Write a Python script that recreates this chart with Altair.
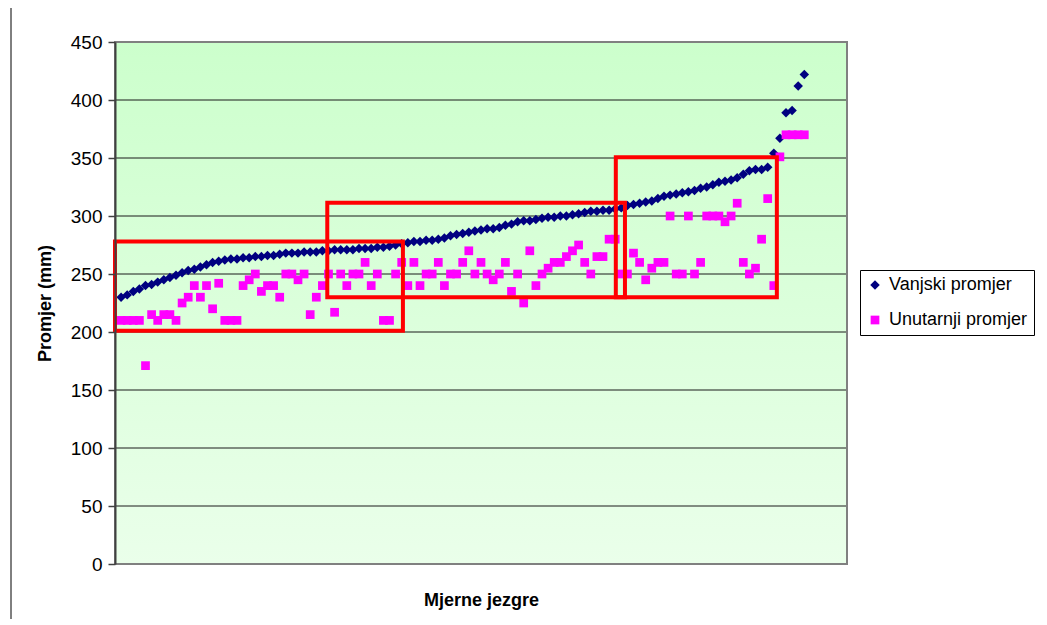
import altair as alt
import pandas as pd

# ---- data ----
series_names = ["Vanjski promjer", "Unutarnji promjer"]

outer = [
    230, 232, 235, 237, 240, 241, 243, 245, 247, 249,
    251, 253, 254, 256, 258, 260, 261, 262, 263, 263,
    264, 264, 265, 265, 266, 266, 267, 268, 268, 268,
    269, 269, 269, 270, 270, 271, 271, 271, 271, 272,
    272, 272, 273, 273, 274, 275, 276, 277, 278, 278,
    279, 279, 280, 281, 283, 284, 285, 286, 287, 288,
    289, 289, 290, 292, 293, 295, 296, 296, 297, 298,
    299, 299, 300, 300, 301, 302, 303, 304, 304, 305,
    305, 306, 307, 309, 310, 311, 312, 313, 315, 317,
    318, 319, 320, 321, 322, 324, 325, 327, 329, 330,
    331, 333, 336, 339, 340, 340, 342, 354, 367, 389,
    391, 412, 422,
]

inner = [
    210, 210, 210, 210, 171, 215, 210, 215, 215, 210,
    225, 230, 240, 230, 240, 220, 242, 210, 210, 210,
    240, 245, 250, 235, 240, 240, 230, 250, 250, 245,
    250, 215, 230, 240, 250, 217, 250, 240, 250, 250,
    260, 240, 250, 210, 210, 250, 260, 240, 260, 240,
    250, 250, 260, 240, 250, 250, 260, 270, 250, 260,
    250, 245, 250, 260, 235, 250, 225, 270, 240, 250,
    255, 260, 260, 265, 270, 275, 260, 250, 265, 265,
    280, 280, 250, 250, 268, 260, 245, 255, 260, 260,
    300, 250, 250, 300, 250, 260, 300, 300, 300, 295,
    300, 311, 260, 250, 255, 280, 315, 240, 351, 370,
    370, 370, 370,
]

cores = list(range(1, len(outer) + 1))

# highlighted regions (red frames), in data units
box_x1 = [0, 34.8, 82.1]
box_x2 = [47.2, 83.6, 108.5]
box_y1 = [201, 230, 230]
box_y2 = [278, 311.5, 350.6]

grid_values = [50, 100, 150, 200, 250, 300, 350, 400, 450]
y_ticks = [0, 50, 100, 150, 200, 250, 300, 350, 400, 450]

# ---- tables ----
pts = pd.DataFrame(
    {
        "core": cores + cores,
        "value": outer + inner,
        "series": [series_names[0]] * len(outer) + [series_names[1]] * len(inner),
    }
)
boxes = pd.DataFrame({"x1": box_x1, "x2": box_x2, "y1": box_y1, "y2": box_y2})
grid = pd.DataFrame({"g": grid_values})
one = pd.DataFrame({"a": [0]})

W, H = 732, 522
FONT = "Liberation Sans"

xscale = alt.Scale(domain=[0, 120], nice=False, zero=False)
yscale = alt.Scale(domain=[0, 450], nice=False)

bg = alt.Chart(one).mark_rect(
    fill=alt.Gradient(
        gradient="linear",
        stops=[
            alt.GradientStop(color="#CCFFCC", offset=0),
            alt.GradientStop(color="#EAFFEA", offset=1),
        ],
        x1=0, x2=0, y1=0, y2=1,
    )
).encode(x=alt.value(0), x2=alt.value("width"), y=alt.value(0), y2=alt.value("height"))

grid_rules = alt.Chart(grid).mark_rule(color="#1a1a1a", strokeWidth=1).encode(
    x=alt.value(0), x2=alt.value("width"),
    y=alt.Y("g:Q", scale=yscale),
)

border = alt.Chart(one).mark_rect(filled=False, stroke="#808080", strokeWidth=2).encode(
    x=alt.value(0), x2=alt.value("width"), y=alt.value(0), y2=alt.value("height")
)

frame_line = alt.Chart(one).mark_rule(color="#000000", strokeWidth=1).encode(
    x=alt.value(-104), y=alt.value(-40), y2=alt.value(H + 70)
)

legend_props = dict(
    title=None,
    orient="none",
    legendX=745,
    legendY=228,
    strokeColor="#000000",
    fillColor="#FFFFFF",
    padding=6,
    labelFontSize=18,
    labelFont=FONT,
    labelColor="#000000",
    symbolSize=55,
    rowPadding=17,
    labelOffset=5,
    symbolStrokeWidth=0,
)

points = alt.Chart(pts).mark_point(filled=True, opacity=1).encode(
    x=alt.X(
        "core:Q", scale=xscale,
        axis=alt.Axis(
            title="Mjerne jezgre", labels=False, ticks=False, domain=False, grid=False,
            titleFontSize=18, titleFontWeight="bold", titleFont=FONT, titleColor="#000000",
            titleX=W / 2, titleY=36, titleAlign="center", titleBaseline="middle",
        ),
    ),
    y=alt.Y(
        "value:Q", scale=yscale,
        axis=alt.Axis(
            title="Promjer (mm)", values=y_ticks, grid=False,
            domainColor="#404040", domainWidth=2, tickColor="#404040", tickWidth=1.5,
            tickSize=7, labelPadding=6, labelFontSize=19, labelFont=FONT, labelColor="#000000",
            titleFontSize=18, titleFontWeight="bold", titleFont=FONT, titleColor="#000000",
            titleX=-70, titleY=H / 2, titleAngle=270, titleAlign="center", titleBaseline="middle",
            zindex=1,
        ),
    ),
    color=alt.Color(
        "series:N",
        scale=alt.Scale(domain=series_names, range=["#000080", "#FF00FF"]),
        sort=series_names,
        legend=alt.Legend(**legend_props),
    ),
    shape=alt.Shape(
        "series:N",
        scale=alt.Scale(domain=series_names, range=["diamond", "square"]),
        sort=series_names,
        legend=alt.Legend(**legend_props),
    ),
    size=alt.Size(
        "series:N",
        scale=alt.Scale(domain=series_names, range=[90, 76]),
        legend=None,
    ),
)

red_boxes = alt.Chart(boxes).mark_rect(filled=False, stroke="#FF0000", strokeWidth=4).encode(
    x=alt.X("x1:Q", scale=xscale),
    x2="x2:Q",
    y=alt.Y("y1:Q", scale=yscale),
    y2="y2:Q",
)

chart = (
    alt.layer(bg, grid_rules, border, points, red_boxes, frame_line)
    .properties(
        width=W,
        height=H,
        background="#FFFFFF",
        autosize=alt.AutoSizeParams(type="none"),
        padding={"left": 107, "top": 34, "right": 192, "bottom": 55},
    )
    .configure_view(stroke=None)
)

chart.save("out.html", embed_options={"renderer": "svg", "actions": False})
